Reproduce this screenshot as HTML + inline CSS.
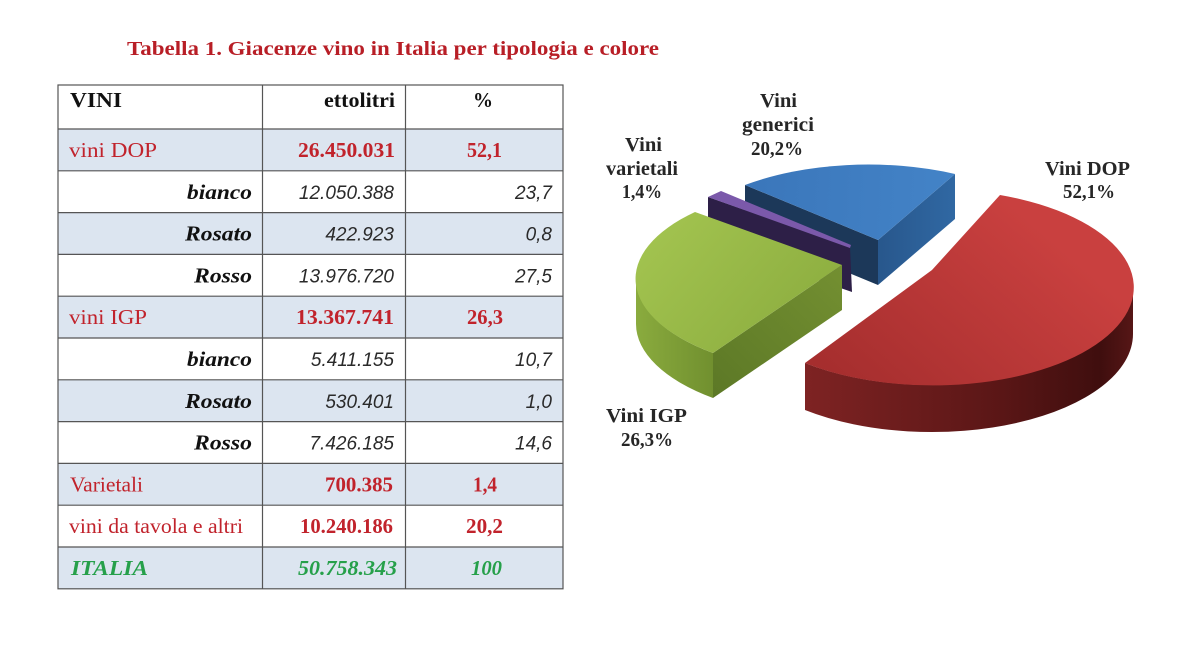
<!DOCTYPE html>
<html><head><meta charset="utf-8"><style>
html,body{margin:0;padding:0;background:#fff;}
svg{display:block;}
text{font-family:"Liberation Serif",serif;}
.lab{font-size:21px;}
.num{font-size:21px;font-weight:bold;fill:#c1232c;}
.it{font-family:"Liberation Sans",sans-serif;font-style:italic;font-size:19px;fill:#2a2a2a;text-anchor:end;}
.bi{font-size:21px;font-weight:bold;font-style:italic;fill:#111;}
.red{fill:#c1232c;}
.grn{font-weight:bold;font-style:italic;fill:#26a04a;font-size:21px;}
.pl{font-size:20px;font-weight:bold;fill:#262626;}
</style></head><body>
<svg width="1200" height="649" viewBox="0 0 1200 649" xmlns="http://www.w3.org/2000/svg">
<defs>
<linearGradient id="rt" x1="1000" y1="195" x2="840" y2="380" gradientUnits="userSpaceOnUse"><stop offset="0" stop-color="#c9403f"/><stop offset="1" stop-color="#a62e2e"/></linearGradient>
<linearGradient id="rs" x1="805" y1="0" x2="1133" y2="0" gradientUnits="userSpaceOnUse"><stop offset="0" stop-color="#7e2323"/><stop offset="0.6" stop-color="#5a1616"/><stop offset="0.9" stop-color="#3f0e0e"/><stop offset="1" stop-color="#561616"/></linearGradient>
<linearGradient id="gt" x1="660" y1="220" x2="800" y2="340" gradientUnits="userSpaceOnUse"><stop offset="0" stop-color="#a2c34f"/><stop offset="1" stop-color="#8dae40"/></linearGradient>
<linearGradient id="gc" x1="842" y1="270" x2="713" y2="400" gradientUnits="userSpaceOnUse"><stop offset="0" stop-color="#738f31"/><stop offset="1" stop-color="#5c7826"/></linearGradient>
<linearGradient id="gs" x1="636" y1="0" x2="713" y2="0" gradientUnits="userSpaceOnUse"><stop offset="0" stop-color="#8aab3e"/><stop offset="1" stop-color="#71902f"/></linearGradient>
<linearGradient id="bt" x1="760" y1="180" x2="950" y2="190" gradientUnits="userSpaceOnUse"><stop offset="0" stop-color="#3b77bb"/><stop offset="1" stop-color="#4383c7"/></linearGradient>
<linearGradient id="br" x1="878" y1="0" x2="955" y2="0" gradientUnits="userSpaceOnUse"><stop offset="0" stop-color="#28578c"/><stop offset="1" stop-color="#3068a3"/></linearGradient>
</defs>
<rect width="1200" height="649" fill="#fff"/>

<text x="127" y="55" font-size="20" font-weight="bold" fill="#b81e26" textLength="532" lengthAdjust="spacingAndGlyphs">Tabella 1. Giacenze vino in Italia per tipologia e colore</text>

<g fill="#dce5f0">
<rect x="58" y="129" width="505" height="41.8"/>
<rect x="58" y="212.6" width="505" height="41.8"/>
<rect x="58" y="296.2" width="505" height="41.8"/>
<rect x="58" y="379.8" width="505" height="41.8"/>
<rect x="58" y="463.4" width="505" height="41.8"/>
<rect x="58" y="547" width="505" height="41.8"/>
</g>
<g stroke="#555" stroke-width="1.2" fill="none">
<rect x="58" y="85" width="505" height="503.8"/>
<line x1="262.5" y1="85" x2="262.5" y2="588.8"/>
<line x1="405.5" y1="85" x2="405.5" y2="588.8"/>
<line x1="58" y1="129" x2="563" y2="129"/>
<line x1="58" y1="170.8" x2="563" y2="170.8"/>
<line x1="58" y1="212.6" x2="563" y2="212.6"/>
<line x1="58" y1="254.4" x2="563" y2="254.4"/>
<line x1="58" y1="296.2" x2="563" y2="296.2"/>
<line x1="58" y1="338" x2="563" y2="338"/>
<line x1="58" y1="379.8" x2="563" y2="379.8"/>
<line x1="58" y1="421.6" x2="563" y2="421.6"/>
<line x1="58" y1="463.4" x2="563" y2="463.4"/>
<line x1="58" y1="505.2" x2="563" y2="505.2"/>
<line x1="58" y1="547" x2="563" y2="547"/>
</g>

<text x="70" y="107" font-size="21" font-weight="bold" fill="#111" textLength="52" lengthAdjust="spacingAndGlyphs">VINI</text>
<text x="324" y="107" font-size="21" font-weight="bold" fill="#111" textLength="71" lengthAdjust="spacingAndGlyphs">ettolitri</text>
<text x="473" y="107" font-size="21" font-weight="bold" fill="#111" textLength="20" lengthAdjust="spacingAndGlyphs">%</text>

<text class="lab red" x="69" y="157" textLength="88" lengthAdjust="spacingAndGlyphs">vini DOP</text>
<text class="num" x="298" y="157" textLength="97" lengthAdjust="spacingAndGlyphs">26.450.031</text>
<text class="num" x="467" y="157" textLength="35" lengthAdjust="spacingAndGlyphs">52,1</text>

<text class="bi" x="187" y="198.8" textLength="65" lengthAdjust="spacingAndGlyphs">bianco</text>
<text class="it" x="394" y="198.8">12.050.388</text>
<text class="it" x="552" y="198.8">23,7</text>

<text class="bi" x="185" y="240.6" textLength="67" lengthAdjust="spacingAndGlyphs">Rosato</text>
<text class="it" x="394" y="240.6">422.923</text>
<text class="it" x="552" y="240.6">0,8</text>

<text class="bi" x="194" y="282.4" textLength="58" lengthAdjust="spacingAndGlyphs">Rosso</text>
<text class="it" x="394" y="282.4">13.976.720</text>
<text class="it" x="552" y="282.4">27,5</text>

<text class="lab red" x="69" y="324.2" textLength="78" lengthAdjust="spacingAndGlyphs">vini IGP</text>
<text class="num" x="296" y="324.2" textLength="98" lengthAdjust="spacingAndGlyphs">13.367.741</text>
<text class="num" x="467" y="324.2" textLength="36" lengthAdjust="spacingAndGlyphs">26,3</text>

<text class="bi" x="187" y="366" textLength="65" lengthAdjust="spacingAndGlyphs">bianco</text>
<text class="it" x="394" y="366">5.411.155</text>
<text class="it" x="552" y="366">10,7</text>

<text class="bi" x="185" y="407.8" textLength="67" lengthAdjust="spacingAndGlyphs">Rosato</text>
<text class="it" x="394" y="407.8">530.401</text>
<text class="it" x="552" y="407.8">1,0</text>

<text class="bi" x="194" y="449.6" textLength="58" lengthAdjust="spacingAndGlyphs">Rosso</text>
<text class="it" x="394" y="449.6">7.426.185</text>
<text class="it" x="552" y="449.6">14,6</text>

<text class="lab red" x="70" y="491.4" textLength="73" lengthAdjust="spacingAndGlyphs">Varietali</text>
<text class="num" x="325" y="491.4" textLength="68" lengthAdjust="spacingAndGlyphs">700.385</text>
<text class="num" x="473" y="491.4" textLength="24" lengthAdjust="spacingAndGlyphs">1,4</text>

<text class="lab red" x="69" y="533.2" textLength="174" lengthAdjust="spacingAndGlyphs">vini da tavola e altri</text>
<text class="num" x="300" y="533.2" textLength="93" lengthAdjust="spacingAndGlyphs">10.240.186</text>
<text class="num" x="466" y="533.2" textLength="37" lengthAdjust="spacingAndGlyphs">20,2</text>

<text class="grn" x="71" y="575" textLength="77" lengthAdjust="spacingAndGlyphs">ITALIA</text>
<text class="grn" x="298" y="575" textLength="99" lengthAdjust="spacingAndGlyphs">50.758.343</text>
<text class="grn" x="471" y="575" textLength="31" lengthAdjust="spacingAndGlyphs">100</text>

<path d="M745,185 L878,240 L878,285 L745,230 Z" fill="#1c3859"/>
<path d="M878,240 L955,174 L955,219 L878,285 Z" fill="url(#br)"/>
<path d="M878,240 L745,185 A201 97 0 0 1 955,174 Z" fill="url(#bt)"/>
<path d="M708,197 L850,247 L852,292 L708,242 Z" fill="#2d1f47"/>
<path d="M708,197 L721,191 L851,245 L850,248 Z" fill="#7b59aa"/>
<path d="M636,279 A206 95 0 0 0 713,353 L713,398 A206 95 0 0 1 636,324 Z" fill="url(#gs)"/>
<path d="M842,265 L713,353 L713,398 L842,310 Z" fill="url(#gc)"/>
<path d="M842,265 L695,212 A206 95 0 0 0 713,353 Z" fill="url(#gt)"/>
<path d="M1133,287 A201 98 0 0 1 805,363 L805,410 A201 98 0 0 0 1133,334 Z" fill="url(#rs)"/>
<path d="M932,270 L1000,195 A201 98 0 1 1 805,363 Z" fill="url(#rt)"/>

<g class="pl">
<text x="760" y="107" textLength="37" lengthAdjust="spacingAndGlyphs">Vini</text>
<text x="742" y="131" textLength="72" lengthAdjust="spacingAndGlyphs">generici</text>
<text x="751" y="155" textLength="52" lengthAdjust="spacingAndGlyphs">20,2%</text>
<text x="625" y="151" textLength="37" lengthAdjust="spacingAndGlyphs">Vini</text>
<text x="606" y="175" textLength="72" lengthAdjust="spacingAndGlyphs">varietali</text>
<text x="622" y="198" textLength="40" lengthAdjust="spacingAndGlyphs">1,4%</text>
<text x="1045" y="175" textLength="85" lengthAdjust="spacingAndGlyphs">Vini DOP</text>
<text x="1063" y="198" textLength="52" lengthAdjust="spacingAndGlyphs">52,1%</text>
<text x="606" y="422" textLength="81" lengthAdjust="spacingAndGlyphs">Vini IGP</text>
<text x="621" y="446" textLength="52" lengthAdjust="spacingAndGlyphs">26,3%</text>
</g>
</svg>
</body></html>
